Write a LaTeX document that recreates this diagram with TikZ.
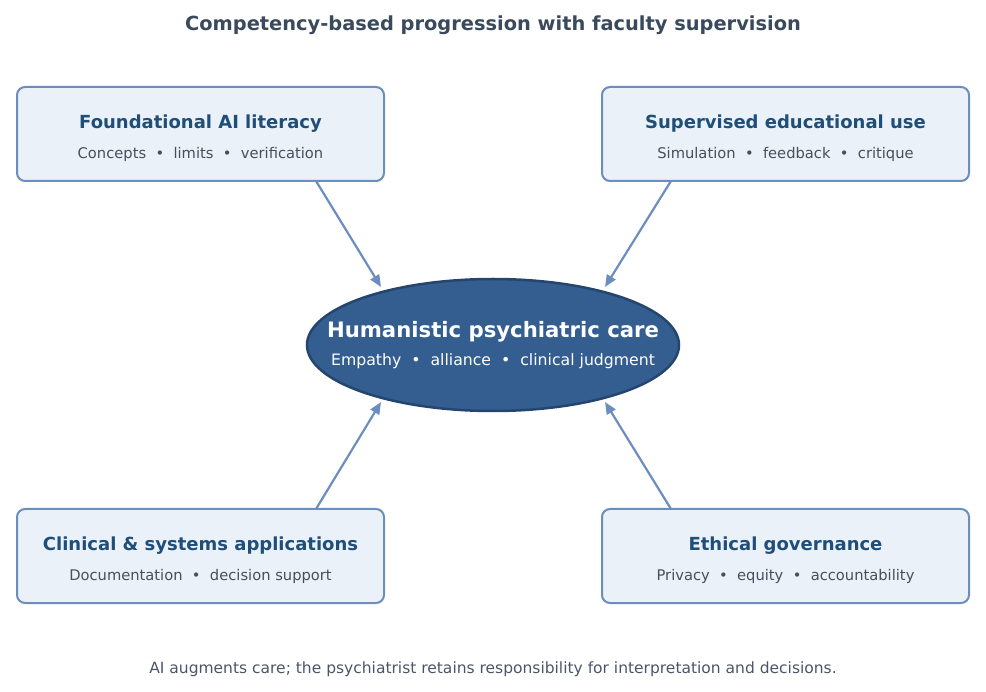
\documentclass[tikz,border=0pt]{standalone}
\usepackage{fontspec}
\setmainfont{DejaVu Sans}
\usetikzlibrary{shapes.geometric,arrows.meta}
\definecolor{boxfill}{HTML}{EAF1F8}
\definecolor{boxline}{HTML}{6C8EBF}
\definecolor{headc}{HTML}{1F4E79}
\definecolor{subc}{HTML}{45505C}
\definecolor{titlec}{HTML}{3A4A5C}
\definecolor{ellfill}{HTML}{335E8F}
\definecolor{ellline}{HTML}{24466E}
\definecolor{footc}{HTML}{4A5668}
\newcommand{\sep}{~~•~~}
\tikzset{
  stagebox/.style={draw=boxline, fill=boxfill, line width=2pt, rounded corners=8pt,
    minimum width=367pt, minimum height=94pt, inner sep=0pt},
  headtxt/.style={font=\bfseries\fontsize{18}{21}\selectfont, text=headc},
  subtxt/.style={font=\fontsize{14.7}{17}\selectfont, text=subc},
  flow/.style={draw=boxline, line width=2.2pt, -{Triangle[length=12pt,width=10pt]}},
}
\begin{document}
\begin{tikzpicture}[x=1pt,y=-1pt]
\useasboundingbox (0,0) rectangle (986,692);
\node[font=\bfseries\fontsize{19.4}{23}\selectfont, text=titlec] (title) at (493,25) {Competency-based progression with faculty supervision};
% boxes
\node[stagebox] (fa) at (200.5,134) {};
\node[stagebox] (su) at (785.5,134) {};
\node[stagebox] (cl) at (200.5,556) {};
\node[stagebox] (et) at (785.5,556) {};
\node[headtxt] (fah) at (200.5,124) {Foundational AI literacy};
\node[subtxt] (fas) at (200.5,154) {Concepts\sep limits\sep verification};
\node[headtxt] (suh) at (785.5,124) {Supervised educational use};
\node[subtxt] (sus) at (785.5,154) {Simulation\sep feedback\sep critique};
\node[headtxt] (clh) at (200.5,546) {Clinical \& systems applications};
\node[subtxt] (cls) at (200.5,576) {Documentation\sep decision support};
\node[headtxt] (eth) at (785.5,546) {Ethical governance};
\node[subtxt] (ets) at (785.5,576) {Privacy\sep equity\sep accountability};
% ellipse
\node[ellipse, draw=ellline, fill=ellfill, line width=2.5pt, minimum width=372pt, minimum height=132pt, inner sep=0pt] (care) at (493,345) {};
\node[font=\bfseries\fontsize{21.2}{25}\selectfont, text=white] (careh) at (493,331.5) {Humanistic psychiatric care};
\node[font=\fontsize{15.7}{18}\selectfont, text=white] (cares) at (493,361) {Empathy\sep alliance\sep clinical judgment};
% connector ends
\coordinate (a1) at (316,181); \coordinate (b1) at (381,287);
\coordinate (a2) at (671,181); \coordinate (b2) at (605,287);
\coordinate (a3) at (316,509); \coordinate (b3) at (381,402);
\coordinate (a4) at (671,509); \coordinate (b4) at (605,402);
\draw[flow] (a1) -- (b1);
\draw[flow] (a2) -- (b2);
\draw[flow] (a3) -- (b3);
\draw[flow] (a4) -- (b4);
\node[font=\fontsize{15.5}{18}\selectfont, text=footc] (foot) at (493,669) {AI augments care; the psychiatrist retains responsibility for interpretation and decisions.};
\end{tikzpicture}
\end{document}
